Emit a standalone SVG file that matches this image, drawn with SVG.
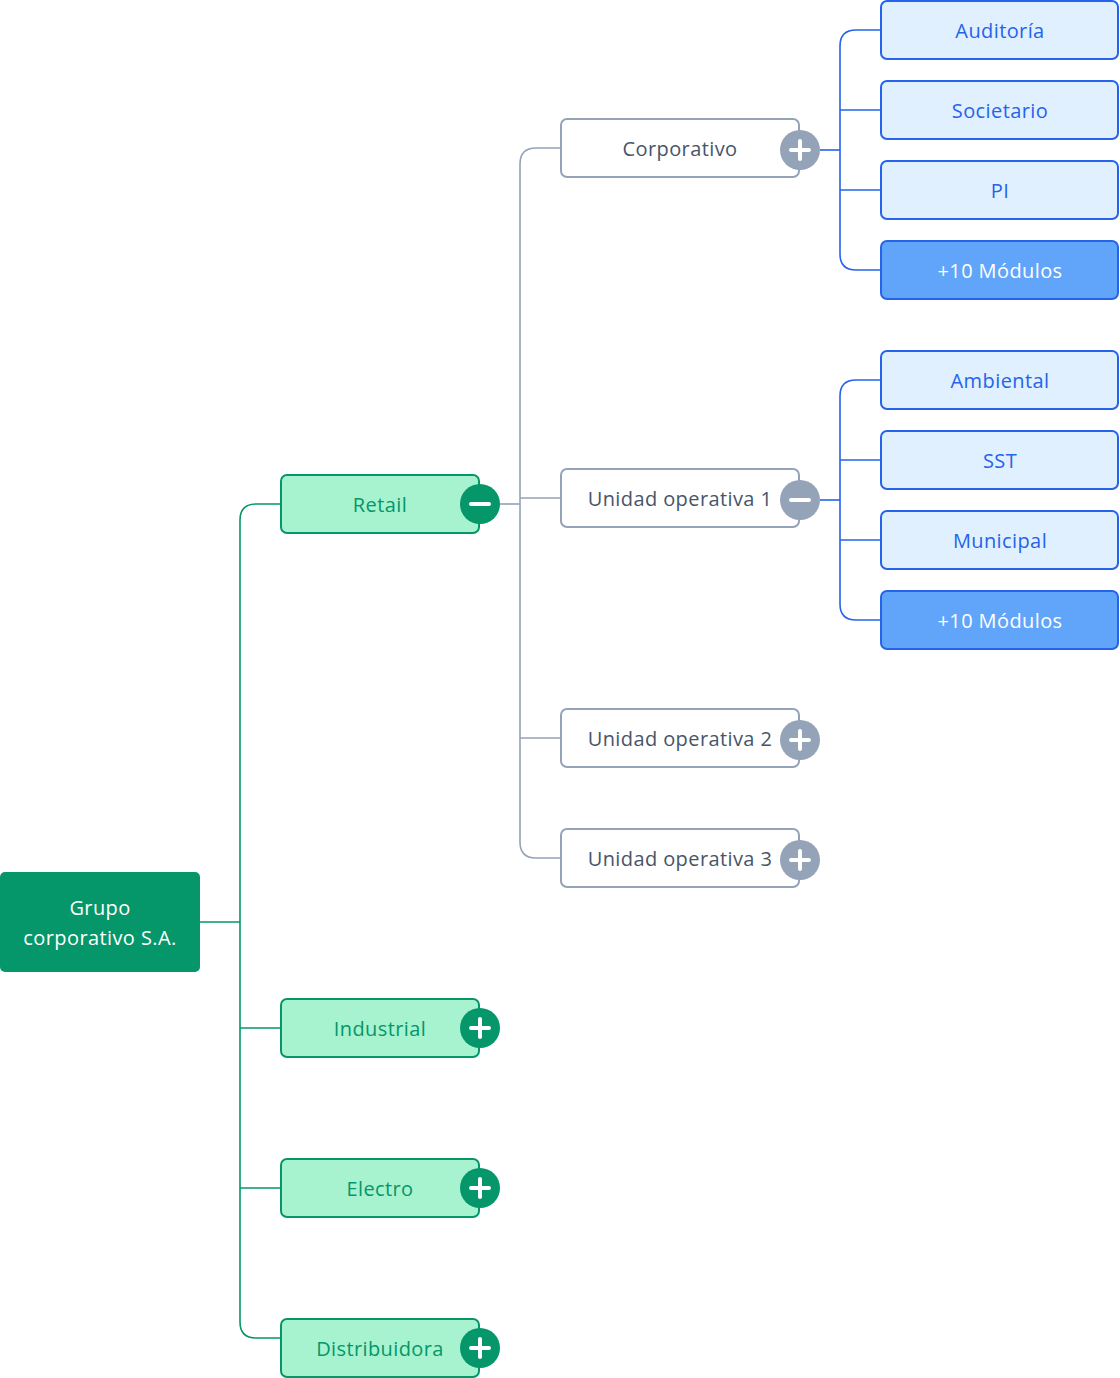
<svg xmlns="http://www.w3.org/2000/svg" width="1120" height="1378" viewBox="0 0 1120 1378">
<style>
text{font-family:"Open Sans","Noto Sans","Liberation Sans",sans-serif;font-size:20px;letter-spacing:0.4px;text-anchor:middle;dominant-baseline:central}
.c{fill:none;stroke-width:1.6}
.cg{stroke:#059669}.cs{stroke:#94a3b8}.cb{stroke:#2563eb}
.root rect{fill:#059669}
.root text{fill:#ffffff}
.l1 rect{fill:#a7f3d0;stroke:#059669;stroke-width:2}
.l1 text{fill:#059669}
.l2 rect{fill:#ffffff;stroke:#94a3b8;stroke-width:2}
.l2 text{fill:#475569}
.l3 rect{fill:#e0f0fe;stroke:#2563eb;stroke-width:2}
.l3 text{fill:#2563eb}
.l3m rect{fill:#60a5fa;stroke:#2563eb;stroke-width:2}
.l3m text{fill:#ffffff}
.tg{fill:#059669}.ts{fill:#94a3b8}
.ic{stroke:#ffffff;stroke-width:4;stroke-linecap:round;fill:none}
</style>
<g id="connectors">
<path class="c cg" d="M200 922H240"/>
<path class="c cg" d="M280 504H256Q240 504 240 520V1322Q240 1338 256 1338H280"/>
<path class="c cg" d="M240 1028H280M240 1188H280"/>
<path class="c cs" d="M500 504H520"/>
<path class="c cs" d="M560 148H536Q520 148 520 164V842Q520 858 536 858H560"/>
<path class="c cs" d="M520 498H560M520 738H560"/>
<path class="c cb" d="M820 150H840"/>
<path class="c cb" d="M880 30H856Q840 30 840 46V254Q840 270 856 270H880"/>
<path class="c cb" d="M840 110H880M840 190H880"/>
<path class="c cb" d="M820 500H840"/>
<path class="c cb" d="M880 380H856Q840 380 840 396V604Q840 620 856 620H880"/>
<path class="c cb" d="M840 460H880M840 540H880"/>
</g>
<g id="root" class="root"><rect x="0" y="872" width="200" height="100" rx="5"/><text x="100" y="907">Grupo</text><text x="100" y="937">corporativo S.A.</text></g>
<g id="retail" class="l1"><rect x="281" y="475" width="198" height="58" rx="6"/><text x="380" y="504">Retail</text><circle class="tg" cx="480" cy="504" r="20"/><path class="ic" d="M471 504H489"/></g>
<g id="industrial" class="l1"><rect x="281" y="999" width="198" height="58" rx="6"/><text x="380" y="1028">Industrial</text><circle class="tg" cx="480" cy="1028" r="20"/><path class="ic" d="M471 1028H489M480 1019V1037"/></g>
<g id="electro" class="l1"><rect x="281" y="1159" width="198" height="58" rx="6"/><text x="380" y="1188">Electro</text><circle class="tg" cx="480" cy="1188" r="20"/><path class="ic" d="M471 1188H489M480 1179V1197"/></g>
<g id="distribuidora" class="l1"><rect x="281" y="1319" width="198" height="58" rx="6"/><text x="380" y="1348">Distribuidora</text><circle class="tg" cx="480" cy="1348" r="20"/><path class="ic" d="M471 1348H489M480 1339V1357"/></g>
<g id="corporativo" class="l2"><rect x="561" y="119" width="238" height="58" rx="6"/><text x="680" y="148">Corporativo</text><circle class="ts" cx="800" cy="150" r="20"/><path class="ic" d="M791 150H809M800 141V159"/></g>
<g id="uo1" class="l2"><rect x="561" y="469" width="238" height="58" rx="6"/><text x="680" y="498">Unidad operativa 1</text><circle class="ts" cx="800" cy="500" r="20"/><path class="ic" d="M791 500H809"/></g>
<g id="uo2" class="l2"><rect x="561" y="709" width="238" height="58" rx="6"/><text x="680" y="738">Unidad operativa 2</text><circle class="ts" cx="800" cy="740" r="20"/><path class="ic" d="M791 740H809M800 731V749"/></g>
<g id="uo3" class="l2"><rect x="561" y="829" width="238" height="58" rx="6"/><text x="680" y="858">Unidad operativa 3</text><circle class="ts" cx="800" cy="860" r="20"/><path class="ic" d="M791 860H809M800 851V869"/></g>
<g id="auditoria" class="l3"><rect x="881" y="1" width="237" height="58" rx="6"/><text x="1000" y="30">Auditoría</text></g>
<g id="societario" class="l3"><rect x="881" y="81" width="237" height="58" rx="6"/><text x="1000" y="110">Societario</text></g>
<g id="pi" class="l3"><rect x="881" y="161" width="237" height="58" rx="6"/><text x="1000" y="190">PI</text></g>
<g id="mas1" class="l3m"><rect x="881" y="241" width="237" height="58" rx="6"/><text x="1000" y="270">+10 Módulos</text></g>
<g id="ambiental" class="l3"><rect x="881" y="351" width="237" height="58" rx="6"/><text x="1000" y="380">Ambiental</text></g>
<g id="sst" class="l3"><rect x="881" y="431" width="237" height="58" rx="6"/><text x="1000" y="460">SST</text></g>
<g id="municipal" class="l3"><rect x="881" y="511" width="237" height="58" rx="6"/><text x="1000" y="540">Municipal</text></g>
<g id="mas2" class="l3m"><rect x="881" y="591" width="237" height="58" rx="6"/><text x="1000" y="620">+10 Módulos</text></g>
</svg>
